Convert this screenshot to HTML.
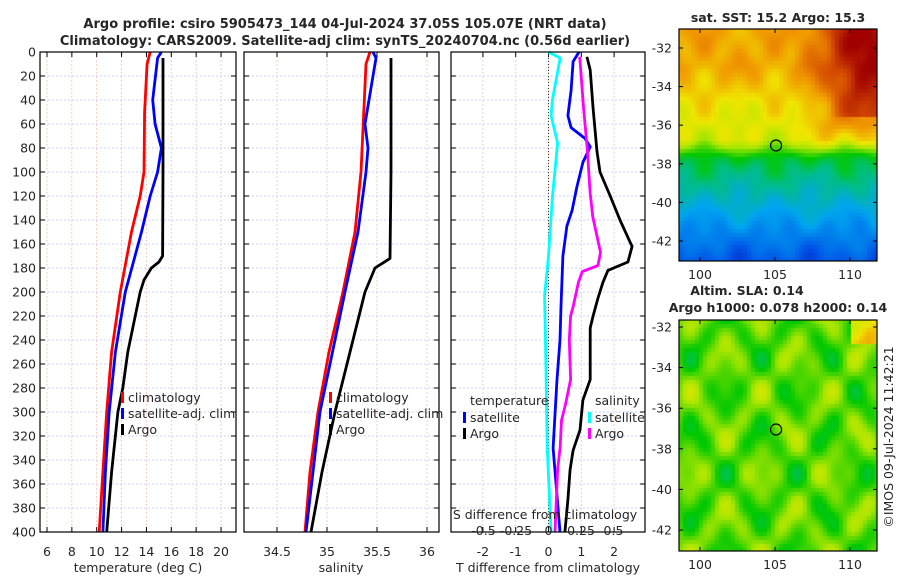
<!DOCTYPE html>
<html><head><meta charset="utf-8">
<style>
html,body{margin:0;padding:0;background:#fff;}
#wrap{position:relative;width:900px;height:580px;overflow:hidden;font-family:"Liberation Sans","DejaVu Sans",sans-serif;}
svg text{font-family:"DejaVu Sans","Liberation Sans",sans-serif;fill:#262626;}
canvas{position:absolute;}
</style></head>
<body>
<div id="wrap">
<canvas id="sst" width="198" height="232" style="left:679px;top:29px;"></canvas>
<canvas id="sla" width="198" height="231" style="left:679px;top:320px;"></canvas>
<svg id="fig" width="900" height="580" style="position:absolute;left:0;top:0"></svg>
</div>
<script>
// ---- data (depth in m) ----
const tClimDepth=[0,10,50,100,120,150,200,250,300,350,400];
const tClim=[14.3,14.05,13.85,13.8,13.5,12.8,11.9,11.2,10.8,10.5,10.2];
const tSatDepth=[0,5,40,60,80,100,120,150,200,250,300,350,400];
const tSat=[15.2,14.9,14.5,14.7,15.2,14.9,14.3,13.6,12.3,11.5,11.0,10.7,10.5];
const tArgoDepth=[5,100,170,175,180,190,200,250,280,300,350,400];
const tArgo=[15.33,15.33,15.3,15.0,14.4,13.8,13.5,12.5,12.1,11.7,11.2,10.8];

const sClimDepth=[0,10,100,150,200,250,300,350,400];
const sClim=[35.43,35.39,35.34,35.28,35.16,35.02,34.91,34.83,34.78];
const sSatDepth=[0,5,40,60,80,100,150,200,300,400];
const sSat=[35.46,35.49,35.42,35.38,35.41,35.39,35.31,35.18,34.93,34.79];
const sArgoDepth=[5,100,172,180,200,250,300,350,400];
const sArgo=[35.64,35.64,35.63,35.48,35.38,35.23,35.08,34.95,34.84];

const dTsatDepth=[0,8,32,53,63,72,79,92,112,132,145,170,212,240,273,330,400];
const dTsat=[0.93,0.75,0.69,0.59,0.69,1.11,1.27,1.05,0.87,0.72,0.56,0.44,0.38,0.35,0.26,0.14,0.35];
const dTargoDepth=[4,15,47,83,100,120,140,158,162,175,182,192,205,220,230,273,290,315,332,348,373,400];
const dTargo=[1.17,1.27,1.36,1.48,1.57,1.88,2.18,2.48,2.55,2.42,1.81,1.66,1.51,1.36,1.27,1.27,1.05,0.96,0.75,0.66,0.59,0.5];
const dSargoDepth=[4,47,83,117,137,167,178,183,192,212,220,240,273,294,307,329,348,400];
const dSargo=[0.24,0.27,0.30,0.32,0.34,0.40,0.38,0.26,0.23,0.19,0.17,0.16,0.17,0.13,0.10,0.09,0.07,0.05];
const dSsatDepth=[0,5,40,53,76,121,170,203,260,330,400];
const dSsat=[0,0.09,0.03,0.02,0.07,0.03,0,-0.03,-0.02,-0.01,0.02];

const depthTicks=[0,20,40,60,80,100,120,140,160,180,200,220,240,260,280,300,320,340,360,380,400];
const tTicks=[6,8,10,12,14,16,18,20];
const sTicks=[34.5,35,35.5,36];
const dTTicks=[-2,-1,0,1,2];
const dSTicks=[-0.5,-0.25,0,0.25,0.5];
const dSTickLabels=["-0.5","-0.25","0","0.25","0.5"];
const latTicks=[-32,-34,-36,-38,-40,-42];
const lonTicks=[100,105,110];

// ---- axes ----
const Y0=52,Y1=532;
const yD=d=>Y0+(d/400)*(Y1-Y0);
const P1={x0:40,x1:236},P2={x0:244,x1:439},P3={x0:451,x1:645};
const xT=v=>47+(v-6)*12.43;
const xS=v=>277+(v-34.5)*100;
const xDT=v=>548.5+v*32.8;
const xDS=v=>548.5+v*130;

const NS='http://www.w3.org/2000/svg';
const svg=document.getElementById('fig');
function el(tag,attrs,parent){const e=document.createElementNS(NS,tag);for(const k in attrs)e.setAttribute(k,attrs[k]);(parent||svg).appendChild(e);return e;}
function txt(x,y,s,size,anchor,weight,parent){const t=el('text',{x:x,y:y,'font-size':size,'text-anchor':anchor||'middle','font-weight':weight||'normal'},parent);t.textContent=s;return t;}

function panel(P,name,vticks,xf){
  const g=el('g',{});
  
  
  depthTicks.forEach(d=>{if(d>0&&d<400)el('line',{x1:P.x0,x2:P.x1,y1:yD(d),y2:yD(d),stroke:'#b8c4f0','stroke-width':0.8,'stroke-dasharray':'2,2'},g);});
  vticks.forEach(v=>el('line',{x1:xf(v),x2:xf(v),y1:Y0,y2:Y1,stroke:'#f0c4b0','stroke-width':0.8,'stroke-dasharray':'2,2'},g));
  depthTicks.forEach(d=>{el('line',{x1:P.x0,x2:P.x0+5,y1:yD(d),y2:yD(d),stroke:'#000'},g);el('line',{x1:P.x1,x2:P.x1-5,y1:yD(d),y2:yD(d),stroke:'#000'},g);});
  vticks.forEach(v=>{el('line',{x1:xf(v),x2:xf(v),y1:Y1,y2:Y1-5,stroke:'#000'},g);el('line',{x1:xf(v),x2:xf(v),y1:Y0,y2:Y0+5,stroke:'#000'},g);});
  return g;
}
function line(g,name,depths,vals,xf,color,w){
  const pts=depths.map((d,i)=>xf(vals[i]).toFixed(1)+','+yD(d).toFixed(1)).join(' ');
  const p=el('polyline',{points:pts,fill:'none',stroke:color,'stroke-width':w||2.8,'stroke-linejoin':'round'},g);
  
  
}
function frame(P,g){el('rect',{x:P.x0,y:Y0,width:P.x1-P.x0,height:Y1-Y0,fill:'none',stroke:'#000','stroke-width':1.2},g);}

// titles
txt(345,28,'Argo profile: csiro 5905473_144 04-Jul-2024 37.05S 105.07E (NRT data)',13,'middle','bold');
txt(345,45,'Climatology: CARS2009. Satellite-adj clim: synTS_20240704.nc (0.56d earlier)',13,'middle','bold');

// panel 1
const g1=panel(P1,'temperature-panel',tTicks,xT);
line(g1,'temp-climatology-line',tClimDepth,tClim,xT,'#ff0000');
line(g1,'temp-satellite-line',tSatDepth,tSat,xT,'#0000ff');
line(g1,'temp-argo-line',tArgoDepth,tArgo,xT,'#000000');
frame(P1,g1);
depthTicks.forEach(d=>txt(36,yD(d)+4.5,String(d),12.5,'end'));
tTicks.forEach(v=>txt(xT(v),556,String(v),12.5));
txt(138,572,'temperature (deg C)',12.5);
function legend(x,y,color,label,g){el('rect',{x:x,y:y-10,width:3,height:11,fill:color},g);const t=txt(x+7,y,label,12.5,'start',null,g);return t;}
legend(121,402,'#ff0000','climatology',g1);
legend(121,418,'#0000ff','satellite-adj. clim',g1);
legend(121,434,'#000000','Argo',g1);

// panel 2
const g2=panel(P2,'salinity-panel',sTicks,xS);
line(g2,'sal-climatology-line',sClimDepth,sClim,xS,'#ff0000');
line(g2,'sal-satellite-line',sSatDepth,sSat,xS,'#0000ff');
line(g2,'sal-argo-line',sArgoDepth,sArgo,xS,'#000000');
frame(P2,g2);
sTicks.forEach(v=>txt(xS(v),556,String(v),12.5));
txt(341,572,'salinity',12.5);
legend(329,402,'#ff0000','climatology',g2);
legend(329,418,'#0000ff','satellite-adj. clim',g2);
legend(329,434,'#000000','Argo',g2);

// panel 3
const g3=panel(P3,'difference-panel',dTTicks,xDT);
el('line',{x1:xDT(0),x2:xDT(0),y1:Y0,y2:Y1,stroke:'#333','stroke-width':1,'stroke-dasharray':'1,2'},g3);
line(g3,'sal-sat-diff-line',dSsatDepth,dSsat,xDS,'#00ffff');
line(g3,'temp-sat-diff-line',dTsatDepth,dTsat,xDT,'#0000ff');
line(g3,'sal-argo-diff-line',dSargoDepth,dSargo,xDS,'#ff00ff');
line(g3,'temp-argo-diff-line',dTargoDepth,dTargo,xDT,'#000000');
frame(P3,g3);
dTTicks.forEach(v=>txt(xDT(v),556,String(v),12.5));
txt(548,572,'T difference from climatology',12.5);
txt(545,519,'S difference from climatology',12.5);
dSTicks.forEach((v,i)=>txt(xDS(v),535,dSTickLabels[i],12.5));
txt(470,405,'temperature',12.5,'start',null,g3);
legend(463,422,'#0000ff','satellite',g3);
legend(463,438,'#000000','Argo',g3);
txt(595,405,'salinity',12.5,'start',null,g3);
legend(588,422,'#00ffff','satellite',g3);
legend(588,438,'#ff00ff','Argo',g3);

// ---- maps ----
const cmapStops=[[0,0,0,150],[0.15,0,80,230],[0.3,0,165,240],[0.42,0,190,130],[0.5,0,200,0],[0.6,170,230,0],[0.68,240,230,0],[0.78,240,150,0],[0.88,215,80,0],[1,160,0,0]];
function cmap(v){v=Math.max(0,Math.min(1,v));
  for(let i=1;i<cmapStops.length;i++){const a=cmapStops[i-1],b=cmapStops[i];if(v<=b[0]){const f=(v-a[0])/(b[0]-a[0]);
    return 'rgb('+Math.round(a[1]+f*(b[1]-a[1]))+','+Math.round(a[2]+f*(b[2]-a[2]))+','+Math.round(a[3]+f*(b[3]-a[3]))+')';}}
  return 'rgb(160,0,0)';}
const lonOf=x=>100+(x-21)/15;
function sstVal(lon,lat){
  let v;
  if(lat>-33)v=0.76;else if(lat>-35)v=0.76-(-33-lat)*0.04;else if(lat>-36.8)v=0.68-(-35-lat)*0.02;
  else if(lat>-37.8)v=0.64-(-36.8-lat)*0.17;else if(lat>-40)v=0.47-(-37.8-lat)*0.06;else v=0.34-(-40-lat)*0.06;
  if(lon>106&&lat>-37.5)v+=0.12*Math.min(1,(lon-106)/3)*Math.min(1,(lat+37.5)/1.5);
  if(lon>108.5&&lat>-35.5)v+=0.12*Math.min(1,(lon-108.5)/2);
  v+=0.03*Math.sin(lon*1.3)*Math.cos(lat*1.7)+0.025*Math.sin(lon*2.7+1)*Math.sin(lat*2.1);
  return v;}
function slaVal(lon,lat){
  let v=0.55+0.06*Math.sin(lon*1.4+0.5)*Math.cos(lat*1.6)+0.04*Math.sin(lon*2.6+1)*Math.sin(lat*2.3+0.7);
  if(lon>110&&lat>-32.8)v+=0.15;
  return v;}
function drawMap(id,f,latTop,latPx){
  const c=document.getElementById(id),ctx=c.getContext('2d');
  for(let y=0;y<c.height;y+=4)for(let x=0;x<c.width;x+=4){
    const lon=lonOf(x+2),lat=latTop-(y+2)/latPx;ctx.fillStyle=cmap(f(lon,lat));ctx.fillRect(x,y,4,4);}
}
drawMap('sst',sstVal,-32+(48-29)/19.3,19.3);
drawMap('sla',slaVal,-32+(327-320)/20.3,20.3);

function mapAxes(top,h,lat32,latPx,name){
  const g=el('g',{});
  
  
  el('rect',{x:679,y:top,width:198,height:h,fill:'none',stroke:'#000','stroke-width':1.2},g);
  latTicks.forEach(l=>{const y=lat32+(-32-l)*latPx;el('line',{x1:679,x2:683,y1:y,y2:y,stroke:'#000'},g);el('line',{x1:877,x2:873,y1:y,y2:y,stroke:'#000'},g);txt(672,y+4.5,String(l),12.5,'end',null,g);});
  lonTicks.forEach(l=>{const x=679+21+(l-100)*15;el('line',{x1:x,x2:x,y1:top+h,y2:top+h-4,stroke:'#000'},g);el('line',{x1:x,x2:x,y1:top,y2:top+4,stroke:'#000'},g);txt(x,top+h+18,String(l),12.5,'middle',null,g);});
  const cy=lat32+(37.05-32)*latPx;
  const c=el('circle',{cx:679+21+5.07*15,cy:cy,r:5.5,fill:'none',stroke:'#000','stroke-width':1.2},g);
  
  
}
mapAxes(29,232,48,19.3,'sst-map-axes');
mapAxes(320,231,327,20.3,'sla-map-axes');
txt(778,22,'sat. SST: 15.2 Argo: 15.3',12.5,'middle','bold');
txt(747,295,'Altim. SLA: 0.14',12.5,'middle','bold');
txt(778,312,'Argo h1000: 0.078 h2000: 0.14',12.5,'middle','bold');
const cr=txt(0,0,'©IMOS 09-Jul-2024 11:42:21',12.5,'middle');
cr.setAttribute('transform','translate(893,437) rotate(-90)');

</script>
</body></html>
